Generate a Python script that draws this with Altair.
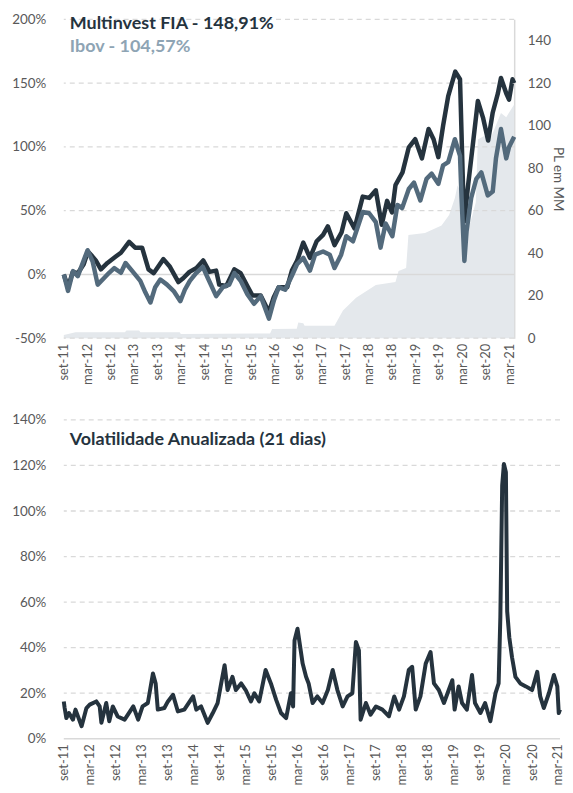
import altair as alt
import pandas as pd

FONT = "Lato"
LABEL_COLOR = "#595959"
GRID_COLOR = "#d9d9d9"
DARK = "#25333e"
IBOV = "#536a7c"
IBOV_TEXT = "#8ea4b4"
AREA = "#e4e8ec"
X_LABEL_SIZE = 13
Y_LABEL_SIZE = 13.5

# ---------------- data ----------------
fund_dates = ["2011-09-01", "2011-10-04", "2011-11-10", "2011-12-19", "2012-02-03", "2012-03-07",
              "2012-04-03", "2012-05-07", "2012-06-16", "2012-08-06", "2012-10-10", "2012-11-19",
              "2013-01-22", "2013-03-10", "2013-05-03", "2013-06-22", "2013-08-01", "2013-10-16",
              "2013-12-06", "2014-02-10", "2014-03-19", "2014-05-07", "2014-07-01", "2014-08-22",
              "2014-10-10", "2014-12-01", "2014-12-25", "2015-02-18", "2015-04-22", "2015-06-10",
              "2015-08-01", "2015-09-10", "2015-11-13", "2016-01-16", "2016-02-22", "2016-04-01",
              "2016-06-07", "2016-07-13", "2016-08-22", "2016-10-10", "2016-12-01", "2017-01-22",
              "2017-03-13", "2017-04-19", "2017-06-10", "2017-08-04", "2017-09-10", "2017-11-13",
              "2018-01-16", "2018-03-07", "2018-04-28", "2018-06-13", "2018-07-25", "2018-09-01",
              "2018-09-28", "2018-11-22", "2019-01-10", "2019-03-01", "2019-04-22", "2019-06-13",
              "2019-07-22", "2019-08-28", "2019-10-04", "2019-11-13", "2020-01-07", "2020-02-13",
              "2020-03-07", "2020-03-18", "2020-04-16", "2020-05-22", "2020-07-01", "2020-08-10",
              "2020-09-19", "2020-10-25", "2020-12-04", "2020-12-28", "2021-02-07", "2021-03-01",
              "2021-03-28", "2021-04-10"]
fund_values = [0, -10, 2, 1, 8, 18,
               15, 11, 4, 9, 14, 17,
               25.6, 21, 21, 4, 1, 12,
               6, -6, -3, 2, 5, 11,
               2, 3, -8, -9, 4, 1,
               -9, -16.5, -16.5, -29.5, -18, -10,
               -10, 3, 10.6, 25, 13, 26,
               31, 37.7, 23, 33, 48, 36,
               61, 60, 66, 39, 57.7, 48.6,
               70, 80, 99.7, 106, 91, 114,
               106, 92, 116.5, 139.8, 159, 153,
               70, 41.6, 70, 101, 136, 123,
               105, 127, 142, 154, 142, 137,
               153, 150]

ibov_dates = ["2011-09-01", "2011-10-04", "2011-11-12", "2011-12-19", "2012-03-04", "2012-04-13",
              "2012-05-22", "2012-07-13", "2012-08-19", "2012-09-28", "2012-11-19", "2012-12-25",
              "2013-02-16", "2013-04-19", "2013-05-28", "2013-07-07", "2013-08-13", "2013-09-22",
              "2013-11-13", "2014-01-04", "2014-02-25", "2014-04-01", "2014-05-10", "2014-06-28",
              "2014-08-19", "2014-09-28", "2014-12-01", "2015-01-22", "2015-03-13", "2015-04-22",
              "2015-06-10", "2015-08-01", "2015-09-22", "2015-11-13", "2016-01-16", "2016-02-25",
              "2016-04-01", "2016-05-22", "2016-07-13", "2016-08-22", "2016-10-10", "2016-12-01",
              "2017-01-10", "2017-03-13", "2017-05-04", "2017-06-10", "2017-08-01", "2017-09-10",
              "2017-11-01", "2018-01-16", "2018-03-07", "2018-04-28", "2018-06-04", "2018-07-13",
              "2018-09-04", "2018-10-13", "2018-11-19", "2019-01-10", "2019-02-19", "2019-04-10",
              "2019-05-28", "2019-07-07", "2019-08-28", "2019-10-04", "2019-11-13", "2020-01-04",
              "2020-02-13", "2020-02-25", "2020-03-18", "2020-04-04", "2020-05-10", "2020-06-19",
              "2020-07-28", "2020-09-16", "2020-10-25", "2020-11-19", "2020-12-28", "2021-02-07",
              "2021-03-01", "2021-04-10"]
ibov_values = [0, -12.9, 2.6, -1.3, 19, 10,
               -8, -2.6, 1.3, 5, 1.3, 9,
               2.6, -5, -14, -22, -10, -4,
               -8, -13, -21, -12, -5, 1,
               6, -3, -17, -10, -8, 1,
               -5, -15.5, -23, -17, -34.6, -20,
               -10, -12, -1, 8, 13, 3,
               15.5, 18, 15.5, 5, 15.5, 30,
               26, 49, 48, 41, 21, 40,
               30, 54.5, 52, 67, 72, 58,
               75, 79, 71, 85.5, 88, 106,
               93, 60, 10.6, 34, 60, 75,
               80, 62, 65, 91, 114, 91,
               100, 108]

pl_dates = ["2011-09-01", "2011-12-01", "2012-12-20", "2013-01-01", "2013-04-10", "2013-04-20",
            "2014-02-20", "2014-03-01", "2016-01-25", "2016-02-10", "2016-08-20", "2016-09-01",
            "2016-10-10", "2016-10-20", "2017-06-10", "2017-08-15", "2017-11-25", "2018-04-28",
            "2018-09-28", "2018-10-22", "2018-12-20", "2019-01-07", "2019-05-16", "2019-09-22",
            "2019-11-20", "2020-01-04", "2020-01-25", "2020-02-20", "2020-03-20", "2020-04-20",
            "2020-05-20", "2020-06-15", "2020-07-01", "2020-08-15", "2020-10-15", "2020-12-28",
            "2021-02-07", "2021-04-10"]
pl_values = [1.5, 2.8, 2.8, 3.6, 3.6, 2.8,
             2.8, 2.0, 2.2, 4.3, 4.5, 7.4,
             7.0, 5.9, 5.9, 13, 19, 25,
             26.5, 31.6, 33, 48.5, 49.5, 53,
             58, 66, 72, 68, 45, 52,
             58, 64, 93.5, 95, 95, 106,
             104, 110]

vol_dates = ["2011-09-01", "2011-09-07", "2011-09-19", "2011-10-07", "2011-11-04", "2011-11-22",
             "2012-01-04", "2012-02-07", "2012-03-01", "2012-04-16", "2012-05-10", "2012-05-22",
             "2012-06-25", "2012-07-16", "2012-08-10", "2012-09-13", "2012-11-01", "2013-01-01",
             "2013-02-04", "2013-03-07", "2013-04-13", "2013-05-19", "2013-06-07", "2013-06-22",
             "2013-08-07", "2013-09-01", "2013-10-07", "2013-11-10", "2013-12-25", "2014-02-25",
             "2014-03-19", "2014-04-22", "2014-06-07", "2014-07-13", "2014-08-16", "2014-09-10",
             "2014-10-04", "2014-10-25", "2014-11-28", "2014-12-22", "2015-01-28", "2015-03-01",
             "2015-04-07", "2015-05-01", "2015-06-04", "2015-07-19", "2015-08-25", "2015-10-01",
             "2015-11-04", "2015-12-10", "2016-01-13", "2016-01-28", "2016-02-07", "2016-02-28",
             "2016-04-04", "2016-04-28", "2016-05-16", "2016-06-13", "2016-07-16", "2016-08-22",
             "2016-09-28", "2016-11-01", "2016-12-04", "2017-01-10", "2017-02-13", "2017-03-19",
             "2017-04-13", "2017-05-04", "2017-05-16", "2017-06-22", "2017-07-25", "2017-09-01",
             "2017-10-16", "2017-12-01", "2018-01-07", "2018-02-10", "2018-03-16", "2018-04-19",
             "2018-05-13", "2018-06-07", "2018-07-10", "2018-08-16", "2018-09-19", "2018-10-13",
             "2018-11-16", "2018-12-22", "2019-02-19", "2019-03-07", "2019-04-04", "2019-04-28",
             "2019-06-01", "2019-07-07", "2019-07-28", "2019-09-04", "2019-10-07", "2019-11-13",
             "2019-12-19", "2020-01-10", "2020-01-22", "2020-02-04", "2020-02-16", "2020-03-01",
             "2020-03-10", "2020-03-25", "2020-04-13", "2020-05-07", "2020-06-10", "2020-07-19",
             "2020-09-01", "2020-10-07", "2020-10-28", "2020-11-22", "2020-12-28", "2021-02-01",
             "2021-02-25", "2021-03-07", "2021-03-16"]
vol_values = [16.4, 13.5, 9.1, 11.3, 8.4, 12.8,
              5.5, 13.5, 15, 16.4, 14.2, 7,
              15.7, 7.7, 14.2, 9.8, 8.4, 14.2,
              8.4, 14.2, 15.7, 28.7, 24.3, 12.8,
              13.5, 16.4, 19.3, 12, 12.8, 18.6,
              12.8, 14.2, 7, 11.3, 15.7, 24.3,
              32.3, 21.4, 27.2, 21.4, 24.3, 21.4,
              16.4, 20, 16.4, 30.2, 24.3, 17.1,
              11.3, 9.1, 20, 14.2, 43.2, 48.3,
              33, 27.2, 24.3, 15.7, 18.6, 15.7,
              21.4, 30.2, 21.4, 14.2, 18.6, 20,
              42.5, 38.8, 8.4, 15.7, 10.6, 14.2,
              12.8, 9.9, 18.6, 12.8, 18.6, 30.2,
              31.6, 12.8, 18.6, 33, 38.1, 24.3,
              21.4, 15.7, 25.7, 12.8, 23, 15.7,
              12.8, 28, 15.7, 11.3, 15.7, 7.7,
              20, 24.3, 53.3, 111.3, 120.7, 117,
              56, 44.5, 35.8, 27.2, 24.3, 23,
              21.4, 29.4, 18.6, 13.5, 20, 28,
              23, 11.3, 12.8]

tick_dates = ["2011-09-01", "2012-03-01", "2012-09-01", "2013-03-01", "2013-09-01", "2014-03-01",
              "2014-09-01", "2015-03-01", "2015-09-01", "2016-03-01", "2016-09-01", "2017-03-01",
              "2017-09-01", "2018-03-01", "2018-09-01", "2019-03-01", "2019-09-01", "2020-03-01",
              "2020-09-01", "2021-03-01"]

left_ticks_top = [-50, 0, 50, 100, 150, 200]
right_ticks_top = [0, 20, 40, 60, 80, 100, 120, 140]
left_ticks_bottom = [0, 20, 40, 60, 80, 100, 120, 140]

fund_label = "Multinvest FIA - 148,91%"
ibov_label = "Ibov - 104,57%"
vol_label = "Volatilidade Anualizada (21 dias)"


def dt(s):
    y, m, d = (int(p) for p in s.split("-"))
    return alt.DateTime(year=y, month=m, date=d)


fund_df = pd.DataFrame({"date": fund_dates, "value": fund_values})
ibov_df = pd.DataFrame({"date": ibov_dates, "value": ibov_values})
pl_df = pd.DataFrame({"date": pl_dates, "pl": pl_values})
vol_df = pd.DataFrame({"date": vol_dates, "vol": vol_values})

label_expr = "(month(datum.value) == 2 ? 'mar-' : 'set-') + timeFormat(datum.value, '%y')"


def x_axis():
    return alt.Axis(values=[dt(s) for s in tick_dates], labelExpr=label_expr, labelAngle=270,
                    labelFont=FONT, labelFontSize=X_LABEL_SIZE, labelColor=LABEL_COLOR, ticks=False,
                    domain=False, grid=False, title=None, labelPadding=5, labelOverlap=False,
                    labelBound=False, labelFlush=False)


def y_axis(values):
    return alt.Axis(orient="left", values=values, labelExpr="datum.value + '%'",
                    grid=False, ticks=False, domain=False, labelPadding=18, labelFont=FONT,
                    labelFontSize=Y_LABEL_SIZE, labelColor=LABEL_COLOR, title=None)


x_top = alt.X("date:T", scale=alt.Scale(domain=[dt("2011-09-01"), dt("2021-04-10")]), axis=x_axis())
x_bot = alt.X("date:T", scale=alt.Scale(domain=[dt("2011-09-01"), dt("2021-03-16")]), axis=x_axis())

# ---------------- top chart ----------------
top_scale = alt.Scale(domain=[-50, 200], nice=False)

area = alt.Chart(pl_df).mark_area(color=AREA, interpolate="linear").encode(
    x=x_top,
    y=alt.Y("pl:Q", scale=alt.Scale(domain=[0, 150], nice=False),
            axis=alt.Axis(orient="right", values=right_ticks_top, grid=False, ticks=False,
                          domain=True, domainColor=GRID_COLOR, domainWidth=1.5, labelPadding=13,
                          labelFont=FONT, labelFontSize=Y_LABEL_SIZE, labelColor=LABEL_COLOR,
                          title="PL em MM", titleFont=FONT, titleFontSize=13.5,
                          titleFontWeight="normal", titleColor=LABEL_COLOR, titlePadding=0)),
)

grid_top = alt.Chart(pd.DataFrame({"value": [v for v in left_ticks_top if v != 0]})).mark_rule(
    color=GRID_COLOR, strokeWidth=1.3, strokeDash=[5, 4]).encode(
    y=alt.Y("value:Q", scale=top_scale, axis=y_axis(left_ticks_top)))
zero_top = alt.Chart(pd.DataFrame({"value": [0]})).mark_rule(
    color=GRID_COLOR, strokeWidth=1.5).encode(
    y=alt.Y("value:Q", scale=top_scale, axis=y_axis(left_ticks_top)))

fund_line = alt.Chart(fund_df).mark_line(color=DARK, strokeWidth=4.5, strokeJoin="round").encode(
    x=x_top, y=alt.Y("value:Q", scale=top_scale, axis=y_axis(left_ticks_top)))
ibov_line = alt.Chart(ibov_df).mark_line(color=IBOV, strokeWidth=4.5, strokeJoin="round").encode(
    x=x_top, y=alt.Y("value:Q", scale=top_scale, axis=y_axis(left_ticks_top)))

t_fund = alt.Chart(pd.DataFrame({"t": [fund_label]})).mark_text(
    align="left", baseline="middle", font=FONT, fontSize=18, fontWeight="bold", color=DARK).encode(
    x=alt.value(6), y=alt.value(5), text="t:N")
t_ibov = alt.Chart(pd.DataFrame({"t": [ibov_label]})).mark_text(
    align="left", baseline="middle", font=FONT, fontSize=18, fontWeight="bold", color=IBOV_TEXT).encode(
    x=alt.value(6), y=alt.value(28), text="t:N")

inner = alt.layer(grid_top, zero_top, fund_line, ibov_line, t_fund, t_ibov)
top = alt.layer(area, inner).resolve_scale(y="independent").properties(width=452, height=320)

# ---------------- bottom chart ----------------
bot_scale = alt.Scale(domain=[0, 140], nice=False)
grid_bot = alt.Chart(pd.DataFrame({"vol": [v for v in left_ticks_bottom if v != 0]})).mark_rule(
    color=GRID_COLOR, strokeWidth=1.3, strokeDash=[5, 4]).encode(
    y=alt.Y("vol:Q", scale=bot_scale, axis=y_axis(left_ticks_bottom)))
zero_bot = alt.Chart(pd.DataFrame({"vol": [0]})).mark_rule(
    color=GRID_COLOR, strokeWidth=1.5).encode(
    y=alt.Y("vol:Q", scale=bot_scale, axis=y_axis(left_ticks_bottom)))
vol_line = alt.Chart(vol_df).mark_line(color=DARK, strokeWidth=4, strokeJoin="round").encode(
    x=x_bot, y=alt.Y("vol:Q", scale=bot_scale, axis=y_axis(left_ticks_bottom)))
t_vol = alt.Chart(pd.DataFrame({"t": [vol_label]})).mark_text(
    align="left", baseline="middle", font=FONT, fontSize=18, fontWeight="bold", color=DARK).encode(
    x=alt.value(6), y=alt.value(20), text="t:N")

bottom = alt.layer(grid_bot, zero_bot, vol_line, t_vol).properties(width=498, height=320)

chart = alt.vconcat(top, bottom, spacing=28).configure_view(stroke=None).properties(
    padding={"left": 3, "top": 3, "right": 0, "bottom": 0})

chart.save("out.html", embed_options={"renderer": "svg", "actions": False})
